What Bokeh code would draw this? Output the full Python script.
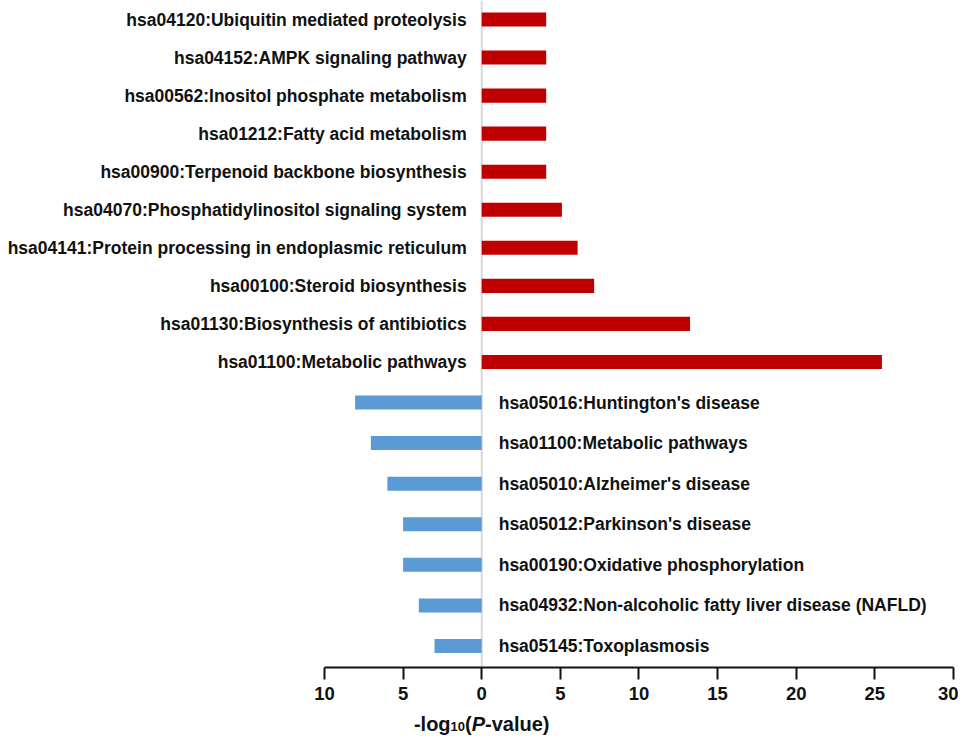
from bokeh.plotting import figure
from bokeh.models import Range1d, FixedTicker, ColumnDataSource
from bokeh.embed import file_html
from bokeh.resources import INLINE
from bokeh.core.properties import value

# ---- data ----
up_terms = [
    "hsa04120:Ubiquitin mediated proteolysis",
    "hsa04152:AMPK signaling pathway",
    "hsa00562:Inositol phosphate metabolism",
    "hsa01212:Fatty acid metabolism",
    "hsa00900:Terpenoid backbone biosynthesis",
    "hsa04070:Phosphatidylinositol signaling system",
    "hsa04141:Protein processing in endoplasmic reticulum",
    "hsa00100:Steroid biosynthesis",
    "hsa01130:Biosynthesis of antibiotics",
    "hsa01100:Metabolic pathways",
]
up_values = [4.1, 4.1, 4.1, 4.1, 4.1, 5.1, 6.1, 7.15, 13.25, 25.45]

down_terms = [
    "hsa05016:Huntington's disease",
    "hsa01100:Metabolic pathways",
    "hsa05010:Alzheimer's disease",
    "hsa05012:Parkinson's disease",
    "hsa00190:Oxidative phosphorylation",
    "hsa04932:Non-alcoholic fatty liver disease (NAFLD)",
    "hsa05145:Toxoplasmosis",
]
down_values = [8.05, 7.05, 6.0, 5.0, 5.0, 4.0, 3.0]

x_ticks = [-10, -5, 0, 5, 10, 15, 20, 25, 30]
x_tick_labels = ["10", "5", "0", "5", "10", "15", "20", "25", "30"]

title_parts = ["-log", "10", "(", "P", "-value)"]

RED = "#C00000"
BLUE = "#5B9BD5"
FONT = "Liberation Sans"
INK = "#111111"

# ---- layout constants (pixels) ----
W, H = 958, 736
UP_ROW, UP_TOP = 38.05, 19.0        # row pitch / first row centre (upregulated)
DN_ROW, DN_TOP = 40.58, 402.0       # row pitch / first row centre (downregulated)
AXIS_PX = 667                       # x axis position from top
TITLE_PX, SUB_PX = 723, 726         # baselines of axis title / subscript


def up_y(px):
    return (px - UP_TOP) / UP_ROW


up_src = ColumnDataSource(dict(
    y=list(range(len(up_terms))), v=up_values, t=up_terms,
    zero=[0] * len(up_terms)))
down_src = ColumnDataSource(dict(
    y=list(range(len(down_terms))), v=[-v for v in down_values], t=down_terms,
    zero=[0] * len(down_terms)))

xr = Range1d(-30.6, 30.32)
p = figure(width=W, height=H, output_backend="svg", toolbar_location=None,
           title=None, x_range=xr, y_range=Range1d(up_y(H), up_y(0)),
           y_axis_location=None, min_border=0)
p.extra_y_ranges = {"down": Range1d((H - DN_TOP) / DN_ROW, -DN_TOP / DN_ROW)}
p.outline_line_color = None
p.grid.visible = False

# x = 0 reference line, from top down to the axis
p.segment(x0=[0], y0=[up_y(0)], x1=[0], y1=[up_y(AXIS_PX)],
          line_color="#D9D9D9", line_width=2)

p.hbar(y="y", left="zero", right="v", height=0.37, source=up_src,
       fill_color=RED, line_color=None)
p.hbar(y="y", left="v", right="zero", height=0.345, source=down_src,
       fill_color=BLUE, line_color=None, y_range_name="down")

p.text(x="zero", y="y", text="t", source=up_src, x_offset=-15,
       text_align="right", text_baseline="middle",
       text_font=value(FONT), text_font_style="bold", text_font_size="17.5px",
       text_color=INK)
p.text(x="zero", y="y", text="t", source=down_src, x_offset=17,
       text_align="left", text_baseline="middle",
       text_font=value(FONT), text_font_style="bold", text_font_size="17.5px",
       text_color=INK, y_range_name="down")

ax = p.xaxis[0]
ax.fixed_location = up_y(AXIS_PX)
ax.bounds = (-10, 30)
ax.ticker = FixedTicker(ticks=x_ticks)
ax.major_label_overrides = {t: l for t, l in zip(x_ticks, x_tick_labels)}
ax.minor_tick_line_color = None
ax.major_tick_in = 0
ax.major_tick_out = 12
ax.major_tick_line_width = 2
ax.axis_line_width = 2
ax.axis_line_color = INK
ax.major_tick_line_color = INK
ax.major_label_standoff = 7
ax.major_label_text_font = FONT
ax.major_label_text_font_style = "bold"
ax.major_label_text_font_size = "18.5px"
ax.major_label_text_color = INK

# ---- axis title: -log10(P-value) ----
fs, sub_fs = 20, 13
widths = [1.833 * fs, 1.112 * sub_fs, 0.333 * fs, 0.667 * fs, 3.223 * fs]
sizes = [fs, sub_fs, fs, fs, fs]
styles = ["bold", "bold", "bold", "bold italic", "bold"]
base = [TITLE_PX, SUB_PX, TITLE_PX, TITLE_PX, TITLE_PX]
offset = -sum(widths) / 2
for txt, w, s, st, b in zip(title_parts, widths, sizes, styles, base):
    p.text(x=[0], y=[up_y(b)], text=[txt], x_offset=offset, text_align="left",
           text_baseline="alphabetic", text_font=value(FONT),
           text_font_style=st, text_font_size=f"{s}px", text_color=INK)
    offset += w

open("out.html", "w").write(file_html(p, INLINE))
